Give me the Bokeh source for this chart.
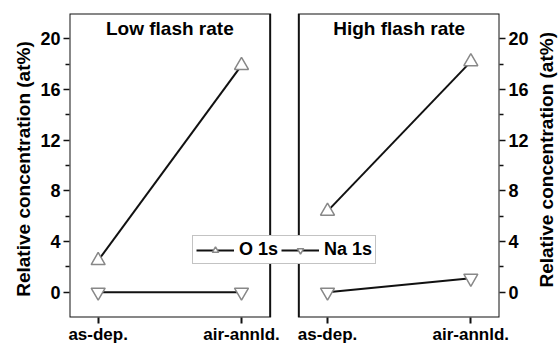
import math
from bokeh.plotting import figure
from bokeh.layouts import row
from bokeh.models import (Range1d, BoxAnnotation, LinearAxis, FixedTicker, Label,
                          Legend, LegendItem, ColumnDataSource)
from bokeh.core.properties import value
from bokeh.embed import file_html
from bokeh.resources import INLINE

# ---- data ----
categories = ["as-dep.", "air-annld."]
panels = ["Low flash rate", "High flash rate"]
o1s_low = [2.5, 17.9]
na1s_low = [0.0, 0.0]
o1s_high = [6.4, 18.2]
na1s_high = [0.0, 1.1]
y_ticks = [0, 4, 8, 12, 16, 20]
y_label = "Relative concentration (at%)"

# ---- layout constants ----
H = 346
PAD = 0.2          # space between frame edge and first/last category
GAP = 0.2          # gap between panels (data units)
YMIN, YMAX = -2, 22
panel_w = (len(categories) - 1) + 2 * PAD
offsets = [0.0, panel_w + GAP]
XMIN, XMAX = -PAD, offsets[1] + panel_w - PAD
FONT = "Liberation Sans"

p = figure(width=495, height=H, output_backend="svg", toolbar_location=None,
           x_range=Range1d(XMIN, XMAX), y_range=Range1d(YMIN, YMAX),
           min_border_left=33, min_border_right=29, min_border_top=13,
           min_border_bottom=29, x_axis_location="below", y_axis_location="left")
p.outline_line_color = None
p.grid.visible = False
p.background_fill_color = "white"
p.border_fill_color = "white"

# panel frames
for off in offsets:
    p.add_layout(BoxAnnotation(left=off - PAD, right=off + panel_w - PAD,
                               bottom=YMIN, top=YMAX, fill_alpha=0,
                               line_color="#111111", line_alpha=1.0, line_width=2,
                               level="underlay"))

# series
xs_cat = list(range(len(categories)))
series = [(o1s_low, na1s_low), (o1s_high, na1s_high)]
o_rs, na_rs = [], []
for off, (o_vals, na_vals) in zip(offsets, series):
    xs = [x + off for x in xs_cat]
    l1 = p.line(xs, o_vals, line_color="#111111", line_width=2)
    l2 = p.line(xs, na_vals, line_color="#111111", line_width=2)
    r1 = p.scatter(xs, o_vals, marker="triangle", size=14, line_color="#888888",
                   fill_color="white", line_width=1.5)
    r2 = p.scatter(xs, na_vals, marker="inverted_triangle", size=14, line_color="#888888",
                   fill_color="white", line_width=1.5)
    o_rs.append([l1, r1])
    na_rs.append([l2, r2])

# panel titles
src = ColumnDataSource(dict(x=[off + (len(categories) - 1) / 2 for off in offsets],
                            y=[20.8, 20.8], t=panels))
p.text(x="x", y="y", text="t", source=src, text_align="center", text_baseline="middle",
       text_font=value(FONT), text_font_style="bold", text_font_size="19px",
       text_color="black")

# x axis with category names
xa = p.xaxis[0]
tick_pos = [x + off for off in offsets for x in xs_cat]
xa.ticker = FixedTicker(ticks=tick_pos)
xa.major_label_overrides = {t: categories[i % len(categories)] for i, t in enumerate(tick_pos)}
xa.axis_line_color = None
xa.major_tick_in = 0
xa.major_tick_out = 6
xa.major_tick_line_width = 2
xa.major_tick_line_color = "#111111"
xa.minor_tick_line_color = None
xa.major_label_text_font = FONT
xa.major_label_text_font_style = "bold"
xa.major_label_text_font_size = "17px"
xa.major_label_text_color = "black"
xa.major_label_standoff = 1

# y axes
minor = [t + (y_ticks[1] - y_ticks[0]) / 2 for t in y_ticks[:-1]]
def style_y(ax):
    ax.ticker = FixedTicker(ticks=y_ticks, minor_ticks=minor)
    ax.axis_line_color = None
    ax.major_tick_in = 0
    ax.major_tick_out = 6
    ax.minor_tick_in = 0
    ax.minor_tick_out = 4
    ax.major_tick_line_width = 1.5
    ax.minor_tick_line_width = 1.5
    ax.major_tick_line_color = "#111111"
    ax.minor_tick_line_color = "#111111"
    ax.major_label_text_font = FONT
    ax.major_label_text_font_style = "bold"
    ax.major_label_text_font_size = "18px"
    ax.major_label_text_color = "black"
    ax.major_label_standoff = 3

style_y(p.yaxis[0])
ra = LinearAxis()
p.add_layout(ra, "right")
style_y(ra)

# legend
legend = Legend(items=[LegendItem(label="O 1s", renderers=o_rs[0]),
                       LegendItem(label="Na 1s", renderers=na_rs[0])],
                orientation="horizontal", location=(123, 53),
                glyph_width=38, glyph_height=16, label_standoff=5, spacing=3,
                padding=3, margin=0,
                border_line_color="#888888", border_line_width=1.5,
                background_fill_color="white", background_fill_alpha=1,
                label_text_font=FONT, label_text_font_style="bold",
                label_text_font_size="18px", label_text_color="black")
p.add_layout(legend, "center")

# side strips carrying the rotated axis titles (both read bottom-to-top)
def side(width, cx, cy):
    f = figure(width=width, height=H, output_backend="svg", toolbar_location=None,
               x_range=Range1d(0, width), y_range=Range1d(0, H),
               min_border=0, x_axis_location=None, y_axis_location=None)
    f.outline_line_color = None
    f.grid.visible = False
    f.add_layout(Label(x=cx, y=H - cy, text=y_label, angle=math.pi / 2,
                       text_align="center", text_baseline="middle",
                       text_font=FONT, text_font_style="bold",
                       text_font_size="19px", text_color="black"))
    return f

left = side(36, 23, 177)
right = side(27, 15, 166.5)

layout = row(left, p, right, spacing=0)
open("out.html", "w").write(file_html(layout, INLINE))
